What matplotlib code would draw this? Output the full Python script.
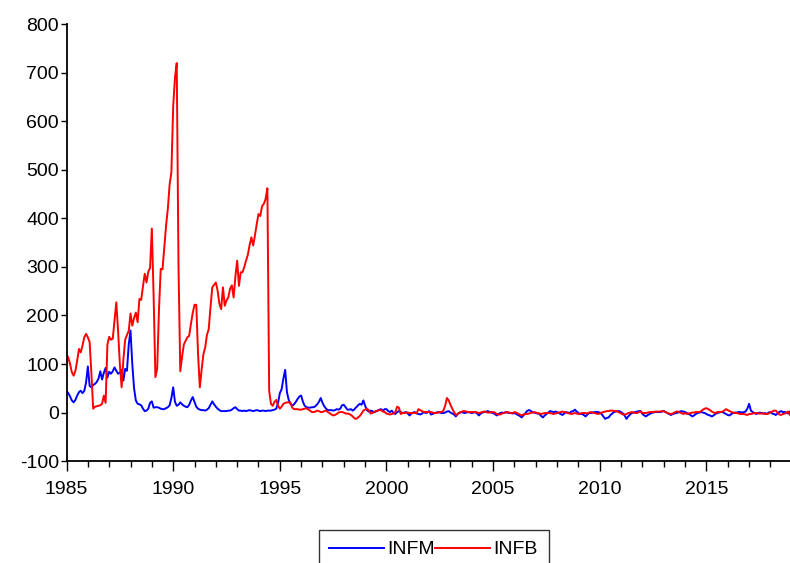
import numpy as np
import matplotlib
matplotlib.use('Agg')
import matplotlib.pyplot as plt
from matplotlib.ticker import MultipleLocator

# monthly series, 1985M01 - 2018M12 (one row per year)
START_YEAR = 1985

INFM = [
    45, 40, 33, 25, 21, 26, 35, 42, 45, 40, 45, 62,          # 1985
    95, 55, 52, 57, 59, 63, 70, 85, 68, 82, 92, 72,          # 1986
    84, 80, 85, 93, 86, 80, 82, 88, 66, 90, 86, 140,         # 1987
    169, 100, 50, 25, 18, 17, 15, 8, 3, 4, 8, 20,            # 1988
    23, 10, 11, 11, 10, 8, 7, 7, 9, 11, 15, 30,              # 1989
    52, 22, 14, 16, 21, 17, 14, 12, 11, 16, 25, 32,          # 1990
    22, 12, 8, 6, 5, 5, 4, 6, 9, 16, 23, 17,                 # 1991
    12, 8, 5, 3, 3, 3, 3, 4, 4, 6, 9, 11,                    # 1992
    7, 4, 4, 3, 4, 3, 4, 5, 4, 3, 4, 5,                      # 1993
    4, 3, 4, 4, 3, 4, 4, 4, 5, 6, 8, 20,                     # 1994
    40, 48, 70, 88, 42, 26, 18, 14, 17, 22, 28, 33,          # 1995
    35, 22, 14, 11, 10, 10, 11, 11, 13, 17, 22, 30,          # 1996
    20, 13, 8, 5, 5, 5, 4, 5, 7, 6, 8, 15,                   # 1997
    16, 11, 6, 6, 7, 4, 7, 11, 15, 18, 16, 25,               # 1998
    14, 5, 2, 4, 3, 1, 2, 4, 6, 7, 4, 7,                     # 1999
    7, 3, 1, 4, -1, -3, 1, 3, 1, -1, 0, 1,                   # 2000
    -2, -6, -2, 0, 1, -2, -3, -4, -2, 1, -1, 0,              # 2001
    3, -4, -3, -1, 0, 1, 0, -1, -1, 0, 2, 3,                 # 2002
    0, -2, -4, -8, -3, -1, 1, 0, -1, 0, 1, 0,                # 2003
    -1, 0, 1, -2, -6, -2, 0, 1, 2, 3, 1, 0,                  # 2004
    -1, -3, -6, -3, -1, 0, -1, 1, 0, -1, -1, -2,             # 2005
    -1, -3, -5, -7, -10, -6, -2, 3, 5, 4, 1, 0,              # 2006
    -1, -2, -3, -7, -10, -6, -3, 0, 3, 2, 1, 2,              # 2007
    1, -1, -3, -5, -2, 1, 0, -1, 2, 3, 6, 2,                 # 2008
    -1, -3, -3, -5, -8, -4, -1, -1, 0, 1, 1, 1,              # 2009
    0, -3, -8, -13, -11, -10, -5, -2, 1, 2, 3, 3,            # 2010
    1, -2, -6, -13, -8, -4, -1, 0, 1, 2, 3, 3,               # 2011
    -3, -6, -8, -5, -3, -1, 0, 1, 1, 1, 1, 2,                # 2012
    3, 1, -1, -3, -5, -3, -2, -1, 0, 2, 3, 2,                # 2013
    1, -1, -3, -5, -8, -6, -3, -1, 0, 1, 0, -1,              # 2014
    -3, -5, -6, -8, -6, -3, -1, 0, 1, 1, -1, -3,             # 2015
    -5, -6, -3, -1, 0, 0, 1, 1, 0, 1, 2, 8,                  # 2016
    18, 4, 1, -1, -3, -1, 0, -1, -2, -1, -3, 0,              # 2017
    1, -2, -3, -5, -2, 1, 3, 1, 1, 0, -2, 2,                 # 2018
]

INFB = [
    120, 113, 100, 83, 76, 86, 107, 131, 124, 138, 155, 162,     # 1985
    155, 145, 80, 8, 12, 13, 14, 15, 18, 35, 20, 140,            # 1986
    156, 150, 152, 189, 227, 169, 100, 52, 110, 150, 160, 168,   # 1987
    204, 179, 195, 206, 186, 234, 232, 260, 286, 268, 290, 298,  # 1988
    379, 240, 73, 90, 210, 296, 295, 340, 385, 420, 470, 495,    # 1989
    630, 690, 720, 300, 85, 115, 140, 148, 155, 158, 183, 205,   # 1990
    222, 222, 120, 52, 88, 120, 134, 160, 172, 217, 258, 263,    # 1991
    268, 251, 224, 213, 258, 220, 231, 237, 255, 262, 237, 280,  # 1992
    313, 261, 289, 289, 300, 313, 325, 345, 361, 344, 365, 388,  # 1993
    409, 405, 425, 430, 440, 462, 45, 18, 14, 22, 26, 14,        # 1994
    8, 12, 18, 20, 21, 21, 20, 10, 7, 7, 7, 6,                   # 1995
    6, 7, 8, 9, 6, 4, 1, 1, 2, 4, 3, 1,                          # 1996
    1, 3, 4, 1, -1, -4, -6, -5, -3, 0, 1, 1,                     # 1997
    0, -2, -2, -3, -5, -8, -12, -13, -10, -7, -2, 4,             # 1998
    6, 8, 5, -2, -1, 1, 3, 4, 5, 5, 2, 1,                        # 1999
    -2, -3, -4, -3, -2, 1, 12, 10, -3, -1, -1, 0,                # 2000
    0, -1, -1, -1, -1, -1, 7, 5, 3, 1, 1, 1,                     # 2001
    1, 1, 0, -1, -1, 0, 1, 1, 4, 14, 30, 25,                     # 2002
    16, 8, 1, -5, -3, 0, 1, 3, 3, 2, 1, 1,                       # 2003
    1, 1, 1, 0, -1, 0, 1, 2, 1, 0, 0, 1,                         # 2004
    1, 0, -3, -4, -4, -2, -1, 0, 1, 0, -1, -1,                   # 2005
    1, 0, -2, -4, -6, -4, -3, -3, -2, -1, 0, 1,                  # 2006
    0, -1, -2, -3, -2, -1, -1, -1, -1, -2, -3, -2,               # 2007
    -1, 0, 1, 2, 1, 0, -1, -2, -3, -2, -1, -2,                   # 2008
    -3, -2, -1, -1, -1, -2, 0, 1, 0, -1, -2, -3,                 # 2009
    -2, 0, 1, 2, 3, 3, 4, 4, 3, 3, 2, 0,                         # 2010
    -2, -4, -4, -3, -1, 0, 1, 0, -1, -1, 1, 2,                   # 2011
    -1, -1, -1, 0, 1, 1, 1, 2, 2, 2, 2, 3,                       # 2012
    3, 1, -1, -2, -3, -2, 0, 2, 2, 0, -1, -3,                    # 2013
    -1, -3, -2, -1, 0, 0, 1, 1, 1, 3, 6, 8,                      # 2014
    9, 7, 5, 2, 0, -1, 1, 1, 1, 2, 4, 7,                         # 2015
    5, 3, 1, 0, -1, -1, -2, -3, -3, -3, -4, -5,                  # 2016
    -3, -3, -2, -1, -1, -2, -2, -2, -2, -3, -3, -2,              # 2017
    1, 2, 4, 4, 0, -4, -5, -3, -2, 0, 2, -5,                     # 2018
]

Y_TICKS = [-100, 0, 100, 200, 300, 400, 500, 600, 700, 800]
X_TICKS = [1985, 1990, 1995, 2000, 2005, 2010, 2015]

plt.rcParams['font.family'] = ['Liberation Sans', 'DejaVu Sans']
plt.rcParams['axes.unicode_minus'] = False

t = START_YEAR + np.arange(len(INFM)) / 12.0

fig = plt.figure(figsize=(7.9, 5.63), dpi=100)
ax = fig.add_axes([0.0842, 0.181, 0.9158, 0.776])

ax.plot(t, INFM, color='#0000ff', lw=1.4, label='INFM')
ax.plot(t, INFB, color='#ff0000', lw=1.4, label='INFB')

ax.set_xlim(START_YEAR, t[-1])
ax.set_ylim(-100, 800)
ax.set_yticks(Y_TICKS)
ax.set_xticks(X_TICKS)
ax.xaxis.set_minor_locator(MultipleLocator(1))

for side in ('top', 'right'):
    ax.spines[side].set_visible(False)
for side in ('left', 'bottom'):
    ax.spines[side].set_linewidth(1.3)

ax.tick_params(axis='both', which='major', labelsize=14, width=1, length=4, direction='out')
ax.tick_params(axis='y', which='major', pad=1.5)
ax.tick_params(axis='x', which='major', length=7, pad=7)
ax.tick_params(axis='x', which='minor', length=4, width=1, direction='out')

# legend box sits at the bottom, partly cut off, as in the source
leg = fig.legend(loc='upper center', bbox_to_anchor=(0.549, 0.0586), ncol=2,
                 fontsize=14, frameon=True, fancybox=False, edgecolor='black',
                 handlelength=2.8, handletextpad=0.2, columnspacing=0.0,
                 borderpad=0.55, borderaxespad=0.0)
leg.get_frame().set_linewidth(1.0)

fig.savefig('out.png', dpi=100)
